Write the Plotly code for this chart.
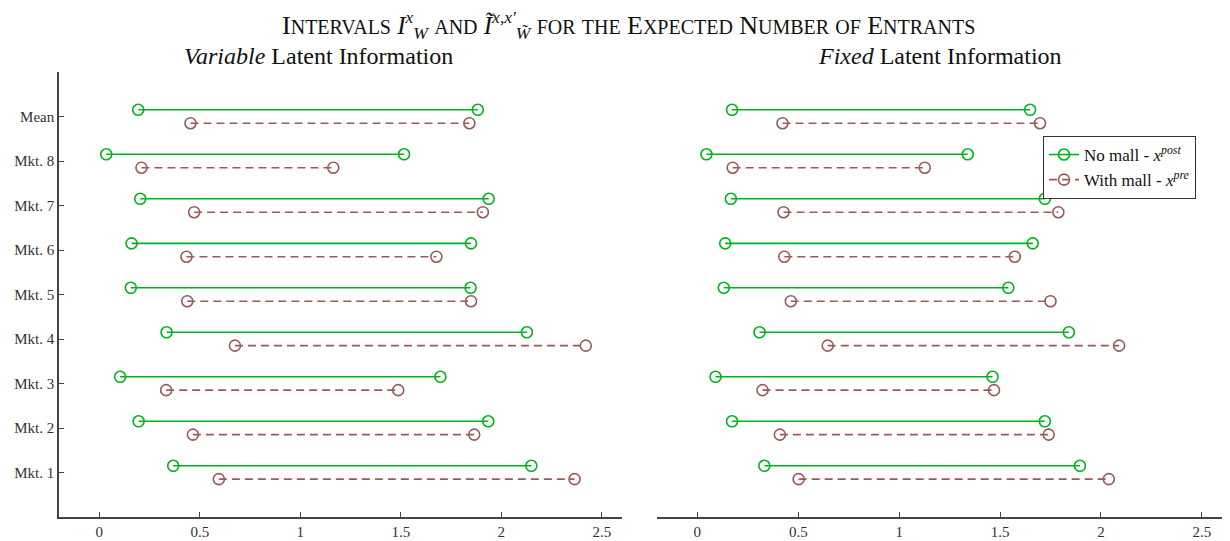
import plotly.graph_objects as go

categories = ["Mkt. 1", "Mkt. 2", "Mkt. 3", "Mkt. 4", "Mkt. 5", "Mkt. 6", "Mkt. 7", "Mkt. 8", "Mean"]
positions = [1, 2, 3, 4, 5, 6, 7, 8, 9]

# Variable latent information
var_nomall_lo = [0.368, 0.196, 0.104, 0.335, 0.157, 0.161, 0.204, 0.035, 0.194]
var_nomall_hi = [2.149, 1.935, 1.697, 2.127, 1.847, 1.849, 1.937, 1.516, 1.883]
var_mall_lo = [0.595, 0.466, 0.333, 0.675, 0.438, 0.434, 0.472, 0.210, 0.454]
var_mall_hi = [2.364, 1.865, 1.487, 2.420, 1.849, 1.677, 1.908, 1.164, 1.841]

# Fixed latent information
fix_nomall_lo = [0.332, 0.172, 0.090, 0.308, 0.131, 0.138, 0.166, 0.045, 0.172]
fix_nomall_hi = [1.896, 1.722, 1.463, 1.841, 1.541, 1.662, 1.722, 1.340, 1.649]
fix_mall_lo = [0.502, 0.409, 0.323, 0.646, 0.463, 0.431, 0.427, 0.175, 0.422]
fix_mall_hi = [2.039, 1.741, 1.470, 2.090, 1.750, 1.573, 1.789, 1.127, 1.698]

x_ticks = [0, 0.5, 1, 1.5, 2, 2.5]
x_ticktext = ["0", "0.5", "1", "1.5", "2", "2.5"]

GREEN = "#00b31e"
BROWN = "#9b5a5a"
FONT = "Liberation Serif"
OFF = 0.15

W, H = 1222, 533  # page body has an 8px margin
O = 8


def px(v):
    return (v - O) / W


def py(v):
    return 1 - (v - O) / H


def segs(lo, hi, off):
    xs, ys = [], []
    for a, b, p in zip(lo, hi, positions):
        xs += [a, b, None]
        ys += [p + off, p + off, None]
    return xs, ys


fig = go.Figure()


def add(lo, hi, off, color, dash, name, xa, ya, show):
    xs, ys = segs(lo, hi, off)
    fig.add_trace(go.Scatter(
        x=xs, y=ys, mode="lines+markers", name=name, showlegend=show,
        xaxis=xa, yaxis=ya,
        line=dict(color=color, width=1.6, dash=dash),
        marker=dict(symbol="circle-open", size=11, color=color, line=dict(width=1.6, color=color)),
        hoverinfo="skip",
    ))


add(var_nomall_lo, var_nomall_hi, OFF, GREEN, "solid", "No mall - <i>x<sup>post</sup></i>", "x", "y", True)
add(var_mall_lo, var_mall_hi, -OFF, BROWN, "8px,5px", "With mall - <i>x<sup>pre</sup></i>", "x", "y", True)
add(fix_nomall_lo, fix_nomall_hi, OFF, GREEN, "solid", "No mall", "x2", "y2", False)
add(fix_mall_lo, fix_mall_hi, -OFF, BROWN, "8px,5px", "With mall", "x2", "y2", False)

AX = "#444444"
xcommon = dict(range=[-0.2, 2.6], tickvals=x_ticks, ticktext=x_ticktext, ticks="inside", ticklen=5,
               tickcolor=AX, showline=True, linecolor=AX, linewidth=1.5, showgrid=False, zeroline=False,
               tickfont=dict(family=FONT, size=15, color="#333333"), automargin=False)
fig.update_layout(
    width=W, height=H,
    margin=dict(l=0, r=0, t=0, b=0),
    paper_bgcolor="white", plot_bgcolor="white",
    font=dict(family=FONT, color="#222222"),
    xaxis=dict(domain=[px(59), px(622)], anchor="y", **xcommon),
    xaxis2=dict(domain=[px(657), px(1222)], anchor="y2", **xcommon),
    yaxis=dict(domain=[py(517), py(72)], range=[0, 10], tickvals=positions, ticktext=categories,
               ticks="inside", ticklen=5, tickcolor=AX, showline=True, linecolor=AX, linewidth=1.5,
               showgrid=False, zeroline=False, tickfont=dict(family=FONT, size=15, color="#333333"),
               automargin=False),
    yaxis2=dict(domain=[py(517), py(72)], range=[0, 10], anchor="x2", showticklabels=False,
                showline=False, showgrid=False, zeroline=False, ticks=""),
    showlegend=True,
    legend=dict(x=px(1043), y=py(136), xanchor="left", yanchor="top",
                bordercolor="#333333", borderwidth=1, bgcolor="white",
                font=dict(family=FONT, size=17, color="#111111"), tracegroupgap=0),
)


def sc(word, big=26, small=20):
    out = ""
    for ch in word:
        if ch.isupper():
            out += f"<span style='font-size:{big}px'>{ch}</span>"
        else:
            out += f"<span style='font-size:{small}px'>{ch.upper()}</span>"
    return out


title = (sc("Intervals") + " <i>I</i><sup><i>x</i></sup><sub><i>W</i></sub> " + sc("and")
         + " <i>Ĩ</i><sup><i>x,x′</i></sup><sub><i>W̃</i></sub> " + sc("for") + " " + sc("the") + " "
         + sc("Expected") + " " + sc("Number") + " " + sc("of") + " " + sc("Entrants"))
fig.add_annotation(text=title, xref="paper", yref="paper", x=px(629), y=py(25),
                   showarrow=False, xanchor="center", yanchor="middle",
                   font=dict(family=FONT, size=25, color="#111111"))
fig.add_annotation(text="<i>Variable</i> Latent Information", xref="paper", yref="paper",
                   x=px(318), y=py(56), showarrow=False, xanchor="center", yanchor="middle",
                   font=dict(family=FONT, size=24, color="#111111"))
fig.add_annotation(text="<i>Fixed</i> Latent Information", xref="paper", yref="paper",
                   x=px(940), y=py(56), showarrow=False, xanchor="center", yanchor="middle",
                   font=dict(family=FONT, size=24, color="#111111"))

fig.write_html("out.html")
